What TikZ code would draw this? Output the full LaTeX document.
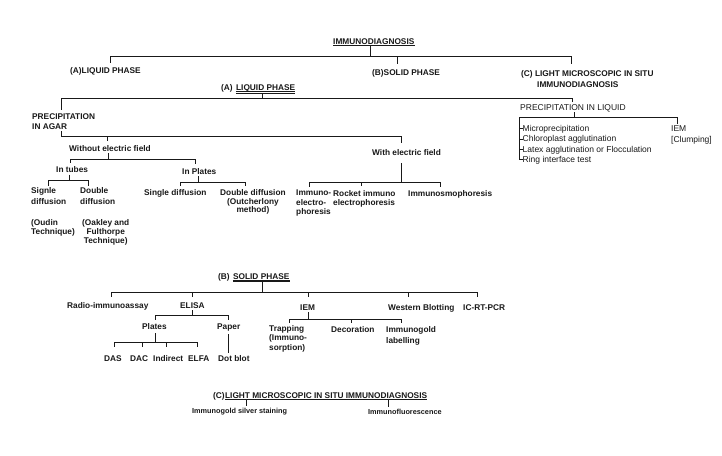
\documentclass[tikz,border=0pt]{standalone}
\usepackage{fontspec}
\setmainfont{Liberation Sans}
\definecolor{ink}{gray}{0.1}
\tikzset{
  bt/.style={font=\fontsize{8.3}{10}\selectfont\bfseries, inner sep=0pt, text=ink},
  st/.style={font=\fontsize{7.3}{9}\selectfont\bfseries, inner sep=0pt, text=ink},
  rt/.style={font=\fontsize{8.5}{10.5}\selectfont, inner sep=0pt, text=ink},
  ln/.style={draw=ink, line width=0.9pt},
  ul/.style={draw=ink, line width=1pt},
}
\begin{document}
\begin{tikzpicture}[x=1pt,y=-1pt]
\useasboundingbox[fill=white] (0,0) rectangle (722,455);

% ---------------- top ----------------
\node[bt, anchor=base west] (imm) at (333,44) {IMMUNODIAGNOSIS};
\draw[ul] ([yshift=-1.5pt]imm.base west) -- ([yshift=-1.5pt]imm.base east);
\node[bt, anchor=base west] (aliq) at (70,73) {(A)LIQUID PHASE};
\node[bt, anchor=base west] (bsol) at (372,75.5) {(B)SOLID PHASE};
\node[bt, anchor=north west, align=left, font=\fontsize{8.3}{11}\selectfont\bfseries] (clight) at (521,70)
  {(C) LIGHT MICROSCOPIC IN SITU\\\hspace{16pt}IMMUNODIAGNOSIS};
\coordinate (b1t) at (370,56);
\coordinate (b1l) at (110,56);
\coordinate (b1m) at (397,56);
\coordinate (b1r) at (571,56);
\draw[ln] ([yshift=-1.5pt]imm.base west -| b1t) -- (b1t);
\draw[ln] (b1l) -- (b1r);
\draw[ln, shorten >=3.5pt] (b1l) -- (b1l |- aliq.north);
\draw[ln, shorten >=5pt] (b1m) -- (b1m |- bsol.north);
\draw[ln, shorten >=6pt] (b1r) -- (b1r |- clight.north);

% ---------------- (A) liquid phase ----------------
\node[bt, anchor=base west] (aA) at (221,90) {(A)};
\node[bt, anchor=base west] (alp) at ([xshift=3pt]aA.base east) {LIQUID PHASE};
\draw[ink, line width=0.6pt] ([yshift=-1.4pt]alp.base west) -- ([yshift=-1.4pt]alp.base east);
\draw[ink, line width=0.6pt] ([yshift=-3pt]alp.base west) -- ([yshift=-3pt]alp.base east);
\coordinate (b2t) at (262,98);
\coordinate (b2l) at (61,98);
\coordinate (b2r) at (572,98);
\draw[ln] ([yshift=-3pt]alp.base west -| b2t) -- (b2t);
\draw[ln] (b2l) -- (b2r);

\node[bt, anchor=north west, align=left] (pagar) at (32,114) {PRECIPITATION\\IN AGAR};
\node[rt, anchor=base west] (pliq) at (520,110) {PRECIPITATION IN LIQUID};
\draw[ln, shorten >=4pt] (b2l) -- (b2l |- pagar.north);
\draw[ln, shorten >=2pt] (b2r) -- (b2r |- pliq.north);

% precipitation in agar
\node[bt, anchor=base west] (wout) at (69,151) {Without electric field};
\node[bt, anchor=base west] (with) at (372,155) {With electric field};
\coordinate (b3l) at (61,136);
\coordinate (b3m) at (107,136);
\coordinate (b3r) at (401,136);
\draw[ln] ([yshift=-1pt]pagar.south -| b3l) -- (b3l) -- (b3r);
\draw[ln, shorten >=4pt] (b3m) -- (b3m |- wout.north);
\draw[ln, shorten >=6pt] (b3r) -- (b3r |- with.north);

% without electric field
\node[bt, anchor=base west] (intubes) at (56,172) {In tubes};
\node[bt, anchor=base west] (inplates) at (182,174) {In Plates};
\coordinate (b4t) at (108,159);
\coordinate (b4l) at (70,159);
\coordinate (b4r) at (195,159);
\draw[ln] ([yshift=-2pt]wout.base west -| b4t) -- (b4t);
\draw[ln] (b4l) -- (b4r);
\draw[ln, shorten >=2.5pt] (b4l) -- (b4l |- intubes.north);
\draw[ln, shorten >=4pt] (b4r) -- (b4r |- inplates.north);

% in tubes
\node[bt, anchor=north west, align=left, font=\fontsize{8.3}{11}\selectfont\bfseries] (signle) at (31,187) {Signle\\diffusion};
\node[bt, anchor=north west, align=left, font=\fontsize{8.3}{11}\selectfont\bfseries] (dbl) at (80,187) {Double\\diffusion};
\node[bt, anchor=north west, align=left, font=\fontsize{8.3}{9.5}\selectfont\bfseries] (oudin) at (31,219) {(Oudin\\Technique)};
\node[bt, anchor=north west, align=center, font=\fontsize{8.3}{9.3}\selectfont\bfseries] (oakley) at (82,219) {(Oakley and\\Fulthorpe\\Technique)};
\coordinate (b5t) at (69,180);
\coordinate (b5l) at (48,180);
\coordinate (b5r) at (88,180);
\draw[ln] ([yshift=-2.5pt]intubes.base west -| b5t) -- (b5t);
\draw[ln] (b5l) -- (b5r);
\draw[ln, shorten >=1.5pt] (b5l) -- (b5l |- signle.north);
\draw[ln, shorten >=1.5pt] (b5r) -- (b5r |- dbl.north);

% in plates
\node[bt, anchor=base west] (sdiff) at (144,195) {Single diffusion};
\node[bt, anchor=north west, align=center, font=\fontsize{8.3}{8.8}\selectfont\bfseries] (ddiff) at (220,189) {Double diffusion\\(Outcherlony\\method)};
\coordinate (b6t) at (198,182);
\coordinate (b6l) at (180,182);
\coordinate (b6r) at (245,182);
\draw[ln] ([yshift=-2pt]inplates.base west -| b6t) -- (b6t);
\draw[ln] (b6l) -- (b6r);
\draw[ln, shorten >=3pt] (b6l) -- (b6l |- sdiff.north);
\draw[ln, shorten >=3pt] (b6r) -- (b6r |- ddiff.north);

% with electric field
\node[bt, anchor=north west, align=left, font=\fontsize{8.3}{9.5}\selectfont\bfseries] (iep) at (296,190) {Immuno-\\electro-\\phoresis};
\node[bt, anchor=north west, align=left, font=\fontsize{8.3}{9.5}\selectfont\bfseries] (rocket) at (333,190) {Rocket immuno\\electrophoresis};
\node[bt, anchor=base west] (iosmo) at (408,196) {Immunosmophoresis};
\coordinate (b7t) at (401,182);
\coordinate (b7l) at (309,182);
\coordinate (b7m) at (361,182);
\coordinate (b7r) at (440,182);
\draw[ln] ([yshift=-8pt]with.base west -| b7t) -- (b7t);
\draw[ln] (b7l) -- (b7r);
\draw[ln, shorten >=3pt] (b7l) -- (b7l |- iep.north);
\draw[ln, shorten >=4pt] (b7m) -- (b7m |- rocket.north);
\draw[ln, shorten >=3pt] (b7r) -- (b7r |- iosmo.north);

% precipitation in liquid
\node[rt, anchor=base west] (it1) at (522.5,131) {Microprecipitation};
\node[rt, anchor=base west] (it2) at (522.5,141.5) {Chloroplast agglutination};
\node[rt, anchor=base west] (it3) at (522.5,152) {Latex agglutination or Flocculation};
\node[rt, anchor=base west] (it4) at (522.5,162) {Ring interface test};
\node[rt, anchor=north west, align=left, font=\fontsize{8.5}{11}\selectfont] (iemc) at (671,125.5) {IEM\\{[Clumping]}};
\coordinate (b8t) at (574,117);
\coordinate (b8l) at (519,117);
\coordinate (b8r) at (677,117);
\draw[ln] ([yshift=-2pt]pliq.base west -| b8t) -- (b8t);
\draw[ln] (b8l) -- (b8r);
\draw[ln, shorten >=2pt] (b8r) -- (b8r |- iemc.north);
\draw[ln] (b8l) |- (it4.west);
\draw[ln] (b8l |- it1.west) -- (it1.west);
\draw[ln] (b8l |- it2.west) -- (it2.west);
\draw[ln] (b8l |- it3.west) -- (it3.west);

% ---------------- (B) solid phase ----------------
\node[bt, anchor=base west] (bB) at (218,279) {(B)};
\node[bt, anchor=base west] (bsp) at ([xshift=3pt]bB.base east) {SOLID PHASE};
\draw[ul, line width=1.2pt] ([yshift=-1.9pt]bsp.base west) -- ([yshift=-1.9pt]bsp.base east);
\node[bt, anchor=base west] (ria) at (67,308) {Radio-immunoassay};
\node[bt, anchor=base west] (elisa) at (180,308) {ELISA};
\node[bt, anchor=base west] (iem) at (300,310) {IEM};
\node[bt, anchor=base west] (wb) at (388,310) {Western Blotting};
\node[bt, anchor=base west] (icrt) at (463,310) {IC-RT-PCR};
\coordinate (b9t) at (262,292);
\coordinate (b9a) at (111,292);
\coordinate (b9b) at (192,292);
\coordinate (b9c) at (308,292);
\coordinate (b9d) at (408,292);
\coordinate (b9e) at (477,292);
\draw[ln] ([yshift=-1.9pt]bsp.base west -| b9t) -- (b9t);
\draw[ln] (b9a) -- (b9e);
\draw[ln, shorten >=5pt] (b9a) -- (b9a |- ria.north);
\draw[ln, shorten >=5pt] (b9b) -- (b9b |- elisa.north);
\draw[ln, shorten >=7pt] (b9c) -- (b9c |- iem.north);
\draw[ln, shorten >=7pt] (b9d) -- (b9d |- wb.north);
\draw[ln, shorten >=7pt] (b9e) -- (b9e |- icrt.north);

% ELISA
\node[bt, anchor=base west] (plates) at (142,329) {Plates};
\node[bt, anchor=base west] (paper) at (217,329) {Paper};
\coordinate (b10t) at (192,315);
\coordinate (b10l) at (155,315);
\coordinate (b10r) at (228,315);
\draw[ln] ([yshift=-2pt]elisa.base west -| b10t) -- (b10t);
\draw[ln] (b10l) -- (b10r);
\draw[ln, shorten >=3pt] (b10l) -- (b10l |- plates.north);
\draw[ln, shorten >=3pt] (b10r) -- (b10r |- paper.north);

\node[bt, anchor=base west] (das) at (104,361) {DAS};
\node[bt, anchor=base west] (dac) at (130,361) {DAC};
\node[bt, anchor=base west] (indirect) at (153,361) {Indirect};
\node[bt, anchor=base west] (elfa) at (188,361) {ELFA};
\node[bt, anchor=base west] (dotblot) at (218,361) {Dot blot};
\coordinate (b11t) at (155,342);
\coordinate (b11a) at (114,342);
\coordinate (b11b) at (142,342);
\coordinate (b11c) at (166,342);
\coordinate (b11d) at (197,342);
\draw[ln] ([yshift=-4pt]plates.base west -| b11t) -- (b11t);
\draw[ln] (b11a) -- (b11d);
\draw[ln, shorten >=8pt] (b11a) -- (b11a |- das.north);
\draw[ln, shorten >=8pt] (b11b) -- (b11b |- dac.north);
\draw[ln, shorten >=8pt] (b11c) -- (b11c |- indirect.north);
\draw[ln, shorten >=8pt] (b11d) -- (b11d |- elfa.north);
\coordinate (p1) at (228,334);
\draw[ln, shorten >=2pt] (p1) -- (p1 |- dotblot.north);

% IEM
\node[bt, anchor=north west, align=left, font=\fontsize{8.3}{9.7}\selectfont\bfseries] (trap) at (269,325) {Trapping\\(Immuno-\\sorption)};
\node[bt, anchor=base west] (deco) at (331,332) {Decoration};
\node[bt, anchor=north west, align=left, font=\fontsize{8.3}{11}\selectfont\bfseries] (igl) at (386,326) {Immunogold\\labelling};
\coordinate (b12t) at (308,319);
\coordinate (b12l) at (289,319);
\coordinate (b12m) at (351,319);
\coordinate (b12r) at (401,319);
\draw[ln] ([yshift=-2pt]iem.base west -| b12t) -- (b12t);
\draw[ln] (b12l) -- (b12r);
\draw[ln, shorten >=2pt] (b12l) -- (b12l |- trap.north);
\draw[ln, shorten >=3pt] (b12m) -- (b12m |- deco.north);
\draw[ln, shorten >=3pt] (b12r) -- (b12r |- igl.north);

% ---------------- (C) ----------------
\node[bt, anchor=base west] (cC) at (213,398) {(C)};
\node[bt, anchor=base west] (clm) at (cC.base east) {LIGHT MICROSCOPIC IN SITU IMMUNODIAGNOSIS};
\draw[ul] ([yshift=-1.6pt]clm.base west) -- ([yshift=-1.6pt]clm.base east);
\node[st, anchor=base west] (igss) at (192,413.8) {Immunogold silver staining};
\node[st, anchor=base west] (ifl) at (368,414.8) {Immunofluorescence};
\coordinate (c1) at (246,399.6);
\coordinate (c2) at (388,399.6);
\draw[ln, shorten >=2pt] (c1) -- (c1 |- igss.north);
\draw[ln, shorten >=2pt] (c2) -- (c2 |- ifl.north);
\end{tikzpicture}
\end{document}
